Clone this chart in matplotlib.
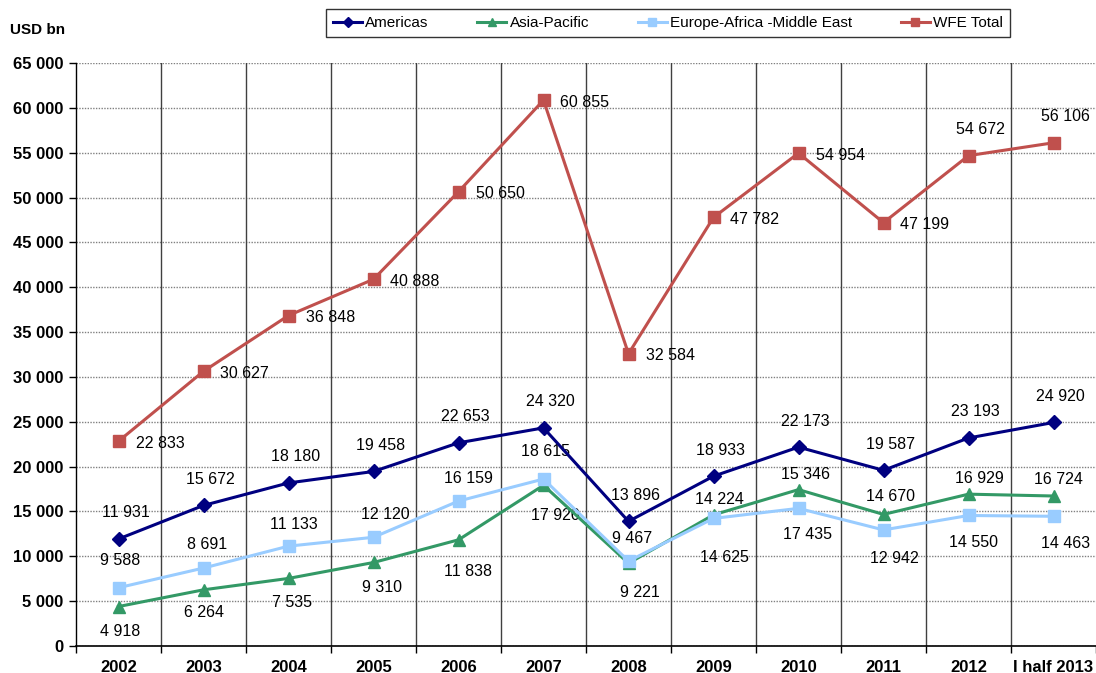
import matplotlib.pyplot as plt
import numpy as np

# data (USD bn)
years = ['2002', '2003', '2004', '2005', '2006', '2007', '2008',
         '2009', '2010', '2011', '2012', 'I half 2013']
americas = [11931, 15672, 18180, 19458, 22653, 24320, 13896,
            18933, 22173, 19587, 23193, 24920]
asia_pacific = [4400, 6264, 7535, 9310, 11838, 17920, 9221,
                14625, 17435, 14670, 16929, 16724]
europe = [6500, 8691, 11133, 12120, 16159, 18615, 9467,
          14224, 15346, 12942, 14550, 14463]
wfe_total = [22833, 30627, 36848, 40888, 50650, 60855, 32584,
             47782, 54954, 47199, 54672, 56106]

# data label texts as printed next to the points
americas_lbl = ['11 931', '15 672', '18 180', '19 458', '22 653', '24 320', '13 896',
                '18 933', '22 173', '19 587', '23 193', '24 920']
asia_lbl = ['4 918', '6 264', '7 535', '9 310', '11 838', '17 920', '9 221',
            '14 625', '15 346', '14 670', '16 929', '16 724']
europe_lbl = ['9 588', '8 691', '11 133', '12 120', '16 159', '18 615', '9 467',
              '14 224', '17 435', '12 942', '14 550', '14 463']
wfe_lbl = ['22 833', '30 627', '36 848', '40 888', '50 650', '60 855', '32 584',
           '47 782', '54 954', '47 199', '54 672', '56 106']

plt.rcParams['font.family'] = ['Liberation Sans', 'DejaVu Sans']

fig = plt.figure(figsize=(10.96, 6.73), dpi=100)
ax = fig.add_axes([76 / 1096, 27 / 673, 1020 / 1096, 583 / 673])

x = np.arange(len(years))

c_am = '#000080'
c_as = '#339966'
c_eu = '#99CCFF'
c_wfe = '#C0504D'

ax.plot(x, wfe_total, color=c_wfe, lw=2.2, marker='s', ms=9, label='WFE Total', zorder=5)
ax.plot(x, americas, color=c_am, lw=2.2, marker='D', ms=7, label='Americas', zorder=5)
ax.plot(x, asia_pacific, color=c_as, lw=2.2, marker='^', ms=9, label='Asia-Pacific', zorder=5)
ax.plot(x, europe, color=c_eu, lw=2.2, marker='s', ms=9,
        label='Europe-Africa -Middle East', zorder=6)

# label offsets in pixels (dx, dy), dy positive = up
fs = 11.5
for i in range(len(x)):
    ax.annotate(americas_lbl[i], (x[i], americas[i]), xytext=(7, 26),
                textcoords='offset pixels', ha='center', va='center', fontsize=fs)

for i in range(len(x)):
    if i >= 10:
        off, ha = (12, 26), 'center'
    else:
        off, ha = (17, -2), 'left'
    ax.annotate(wfe_lbl[i], (x[i], wfe_total[i]), xytext=off,
                textcoords='offset pixels', ha=ha, va='center', fontsize=fs)

eu_off = [(2, 27), (4, 24), (5, 22), (12, 23), (10, 23), (2, 28), (4, 23),
          (6, 19), (9, -26), (11, -29), (5, -27), (12, -27)]
for i in range(len(x)):
    ax.annotate(europe_lbl[i], (x[i], europe[i]), xytext=eu_off[i],
                textcoords='offset pixels', ha='center', va='center', fontsize=fs)

as_off = [(2, -25), (0, -23), (4, -24), (8, -25), (10, -32), (12, -30), (11, -29),
          (11, -43), (7, 15), (7, 18), (11, 16), (5, 16)]
for i in range(len(x)):
    ax.annotate(asia_lbl[i], (x[i], asia_pacific[i]), xytext=as_off[i],
                textcoords='offset pixels', ha='center', va='center', fontsize=fs)

ax.set_xlim(-0.5, len(x) - 0.5)
ax.set_ylim(0, 65000)
ax.set_yticks(np.arange(0, 65001, 5000))
ax.set_yticklabels(['0'] + [f'{v // 1000} 000' for v in range(5000, 65001, 5000)],
                   fontsize=12, fontweight='bold')
ax.set_xticks(x)
ax.set_xticklabels(years, fontsize=12, fontweight='bold')
ax.tick_params(axis='x', length=0, pad=10)
ax.set_xticks(np.arange(-0.5, len(x), 1), minor=True)
ax.tick_params(axis='x', which='minor', length=5, width=1)
ax.tick_params(axis='y', length=5, width=1, pad=4)

ax.grid(axis='y', which='major', color='#808080', ls=(0, (1, 1)), lw=1)
for b in np.arange(0.5, len(x) - 0.5, 1):
    ax.axvline(b, color='#404040', lw=1, zorder=1)
ax.set_axisbelow(True)

for s in ['top', 'right']:
    ax.spines[s].set_visible(False)
ax.spines['left'].set_linewidth(1)
ax.spines['bottom'].set_linewidth(1.2)

fig.text(10 / 1096, 1 - 30 / 673, 'USD bn', fontsize=11, fontweight='bold', va='center')

handles, labels = ax.get_legend_handles_labels()
order = [1, 2, 3, 0]
leg = fig.legend([handles[k] for k in order], [labels[k] for k in order],
                 loc='center', bbox_to_anchor=(668 / 1096, 1 - 23 / 673), ncol=4,
                 fontsize=11, frameon=True, fancybox=False, edgecolor='black',
                 handlelength=1.9, handletextpad=0.2, columnspacing=3.2,
                 borderpad=0.45, markerscale=0.7)
leg.get_frame().set_linewidth(1)

fig.savefig('out.png', dpi=100)
